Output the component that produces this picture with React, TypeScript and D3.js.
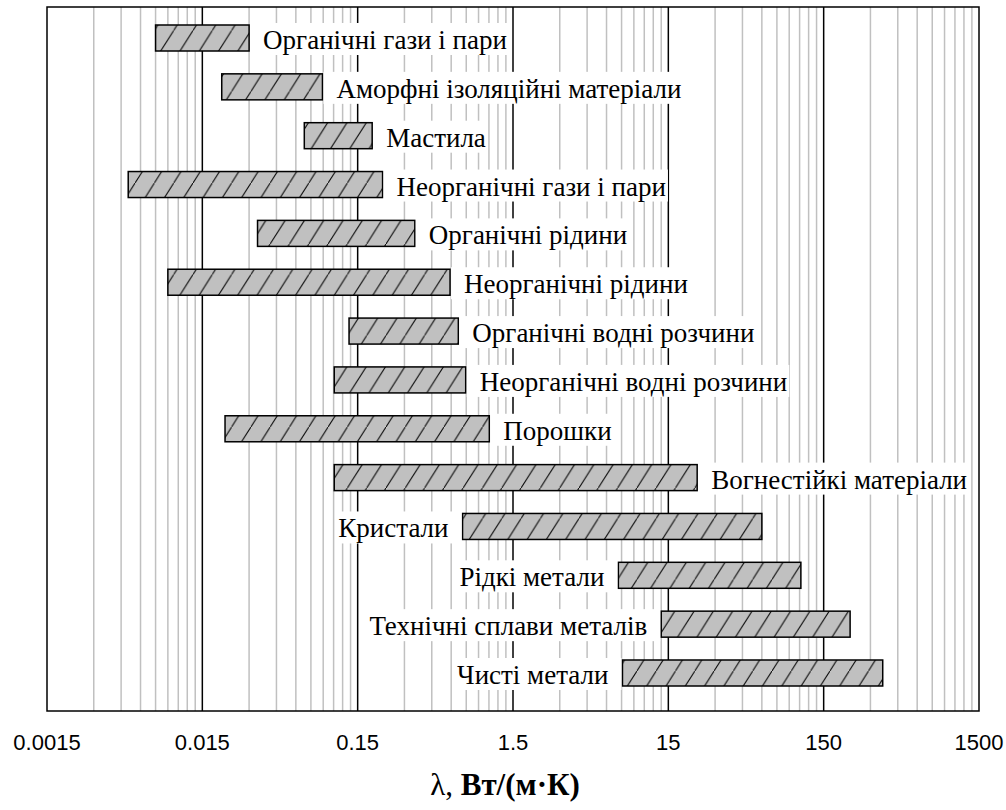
import React, { useEffect, useRef } from "react";
import * as d3 from "d3";

// materials, top to bottom
const materials = [
  "Органічні гази і пари",
  "Аморфні ізоляційні матеріали",
  "Мастила",
  "Неорганічні гази і пари",
  "Органічні рідини",
  "Неорганічні рідини",
  "Органічні водні розчини",
  "Неорганічні водні розчини",
  "Порошки",
  "Вогнестійкі матеріали",
  "Кристали",
  "Рідкі метали",
  "Технічні сплави металів",
  "Чисті метали",
];

// thermal conductivity range, W/(m·K)
const lowValues = [0.0075, 0.02, 0.068, 0.005, 0.034, 0.009, 0.132, 0.106, 0.021, 0.106, 0.71, 7.15, 13.5, 7.6];
const highValues = [0.03, 0.089, 0.186, 0.217, 0.35, 0.59, 0.667, 0.744, 1.056, 23, 60, 107, 222, 360];

const tickValues = [0.0015, 0.015, 0.15, 1.5, 15, 150, 1500];
const tickLabels = ["0.0015", "0.015", "0.15", "1.5", "15", "150", "1500"];

const width = 1006;
const height = 810;
const margin = { top: 7, right: 27, bottom: 99, left: 47 };

const serif = "'Liberation Serif', 'Times New Roman', serif";

export default function App() {
  const ref = useRef<SVGSVGElement>(null);

  useEffect(() => {
    const svg = d3.select(ref.current);
    svg.selectAll("*").remove();

    const x = d3
      .scaleLog()
      .domain([tickValues[0], tickValues[tickValues.length - 1]])
      .range([margin.left, width - margin.right]);
    const y = d3
      .scalePoint()
      .domain(materials)
      .range([margin.top + 31, height - margin.bottom - 38]);
    const barH = 26;
    const top = margin.top;
    const bottom = height - margin.bottom;

    const pat = svg
      .append("defs")
      .append("pattern")
      .attr("id", "hatch")
      .attr("patternUnits", "userSpaceOnUse")
      .attr("width", 19.3)
      .attr("height", 30.5);
    pat.append("rect").attr("width", 19.3).attr("height", 30.5).attr("fill", "#c0c0c0");
    pat
      .append("path")
      .attr("d", "M-1,32.08 L20.3,-1.58")
      .attr("stroke", "#000")
      .attr("stroke-width", 1);

    svg.append("rect").attr("width", width).attr("height", height).attr("fill", "#fff");

    // minor grid
    const minors = tickValues.slice(0, -1).flatMap((d) => d3.range(2, 10).map((k) => d * k));
    svg
      .append("g")
      .selectAll("line")
      .data(minors)
      .join("line")
      .attr("x1", (d) => x(d))
      .attr("x2", (d) => x(d))
      .attr("y1", top)
      .attr("y2", bottom)
      .attr("stroke", "#c0c0c0")
      .attr("stroke-width", 1.5);

    // decade lines
    svg
      .append("g")
      .selectAll("line")
      .data(tickValues.slice(1, -1))
      .join("line")
      .attr("x1", (d) => x(d))
      .attr("x2", (d) => x(d))
      .attr("y1", top)
      .attr("y2", bottom)
      .attr("stroke", "#000")
      .attr("stroke-width", 1.5);

    svg
      .append("rect")
      .attr("x", x.range()[0])
      .attr("y", top)
      .attr("width", x.range()[1] - x.range()[0])
      .attr("height", bottom - top)
      .attr("fill", "none")
      .attr("stroke", "#000")
      .attr("stroke-width", 1.5);

    // bars
    svg
      .append("g")
      .selectAll("rect")
      .data(materials)
      .join("rect")
      .attr("x", (d, i) => x(lowValues[i]))
      .attr("y", (d) => (y(d) as number) - barH / 2)
      .attr("width", (d, i) => x(highValues[i]) - x(lowValues[i]))
      .attr("height", barH)
      .attr("fill", "url(#hatch)")
      .attr("stroke", "#000")
      .attr("stroke-width", 1.5);

    // labels with white backing
    const gap = 14;
    materials.forEach((m, i) => {
      const cy = y(m) as number;
      const left = x(lowValues[i]) > x(0.5);
      const g = svg.append("g");
      const t = g
        .append("text")
        .attr("x", left ? x(lowValues[i]) - gap : x(highValues[i]) + gap)
        .attr("y", cy + 2)
        .attr("dominant-baseline", "central")
        .attr("text-anchor", left ? "end" : "start")
        .attr("font-family", serif)
        .attr("font-size", 27)
        .attr("fill", "#000")
        .text(m);
      const bb = (t.node() as SVGTextElement).getBBox();
      const x0 = left ? bb.x - 2 : x(highValues[i]) + 1;
      const x1 = left ? x(lowValues[i]) - 1 : bb.x + bb.width + 2;
      g.insert("rect", "text")
        .attr("x", x0)
        .attr("y", cy - 15)
        .attr("width", x1 - x0)
        .attr("height", 32)
        .attr("fill", "#fff");
    });

    // tick labels
    svg
      .append("g")
      .selectAll("text")
      .data(tickValues)
      .join("text")
      .attr("x", (d) => x(d))
      .attr("y", bottom + 31)
      .attr("text-anchor", "middle")
      .attr("dominant-baseline", "central")
      .attr("font-family", "'Liberation Sans', Arial, sans-serif")
      .attr("font-size", 22)
      .attr("fill", "#000")
      .text((d, i) => tickLabels[i]);

    const title = svg
      .append("text")
      .attr("x", (x.range()[0] + x.range()[1]) / 2 - 8)
      .attr("y", 795)
      .attr("text-anchor", "middle")
      .attr("font-family", serif)
      .attr("font-size", 31)
      .attr("fill", "#000");
    title.append("tspan").text("λ, ");
    title.append("tspan").attr("font-weight", "bold").text("Вт/(м·К)");
  }, []);

  return (
    <svg
      ref={ref}
      width={width}
      height={height}
      style={{ position: "absolute", left: 0, top: 0, display: "block" }}
    />
  );
}
